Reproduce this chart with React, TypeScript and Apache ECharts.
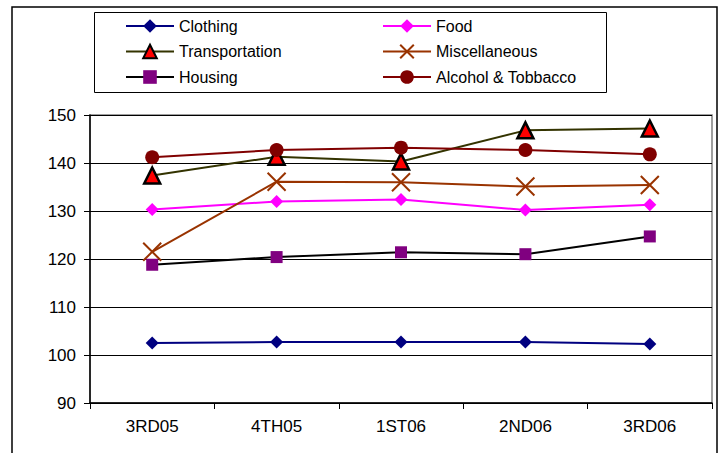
import React, { useEffect, useRef } from "react";
import * as echarts from "echarts";

const categories = ["3RD05", "4TH05", "1ST06", "2ND06", "3RD06"];
const yTicks = [90, 100, 110, 120, 130, 140, 150];

const clothing = [102.5, 102.7, 102.7, 102.7, 102.3];
const food = [130.3, 132.0, 132.4, 130.2, 131.3];
const transportation = [137.4, 141.3, 140.3, 146.8, 147.2];
const miscellaneous = [121.5, 136.1, 136.0, 135.1, 135.4];
const housing = [118.8, 120.4, 121.4, 121.0, 124.7];
const alcohol = [141.2, 142.7, 143.2, 142.7, 141.8];

const FONT = "Liberation Sans, Arial, sans-serif";

export default function App() {
  const ref = useRef<HTMLDivElement>(null);
  useEffect(() => {
    if (!ref.current) return;
    const chart = echarts.init(ref.current, undefined, { renderer: "svg" });
    const lw = 2;
    const legendBase = {
      orient: "vertical",
      top: 18,
      padding: 0,
      itemWidth: 48,
      itemHeight: 17,
      itemGap: 9.5,
      textStyle: { fontSize: 16, color: "#000", fontFamily: FONT },
    };
    chart.setOption({
      animation: false,
      backgroundColor: "#ffffff",
      textStyle: { fontFamily: FONT },
      graphic: [
        {
          type: "rect",
          shape: { x: 12, y: 7, width: 705, height: 470 },
          style: { fill: "none", stroke: "#000", lineWidth: 1.5 },
          silent: true,
          z: -10,
        },
        {
          type: "rect",
          shape: { x: 94.5, y: 12.5, width: 512, height: 80 },
          style: { fill: "none", stroke: "#000", lineWidth: 1 },
          silent: true,
        },
      ],
      legend: [
        { ...legendBase, left: 125, data: ["Clothing", "Transportation", "Housing"] },
        { ...legendBase, left: 382, data: ["Food", "Miscellaneous", "Alcohol & Tobbacco"] },
      ],
      grid: {
        left: 90,
        right: 8,
        top: 115,
        bottom: 50,
        show: true,
        borderColor: "#808080",
        borderWidth: 1.5,
      },
      xAxis: {
        type: "category",
        data: categories,
        boundaryGap: true,
        axisLine: { lineStyle: { color: "#000", width: 1.5 } },
        axisTick: { show: true, length: 6, lineStyle: { color: "#000" } },
        axisLabel: { color: "#000", fontSize: 17, margin: 15, fontFamily: FONT },
      },
      yAxis: {
        type: "value",
        min: yTicks[0],
        max: yTicks[yTicks.length - 1],
        interval: 10,
        axisLine: { show: true, lineStyle: { color: "#000", width: 1.5 } },
        axisTick: { show: true, length: 6, lineStyle: { color: "#000" } },
        axisLabel: { color: "#000", fontSize: 17, margin: 14, fontFamily: FONT },
        splitLine: { lineStyle: { color: "#000", width: 1 } },
      },
      series: [
        {
          name: "Clothing",
          type: "line",
          data: clothing,
          symbol: "diamond",
          symbolSize: 13,
          lineStyle: { color: "#000080", width: lw },
          itemStyle: { color: "#000080" },
        },
        {
          name: "Food",
          type: "line",
          data: food,
          symbol: "diamond",
          symbolSize: 13,
          lineStyle: { color: "#FF00FF", width: lw },
          itemStyle: { color: "#FF00FF" },
        },
        {
          name: "Transportation",
          type: "line",
          data: transportation,
          symbol: "triangle",
          symbolSize: 16,
          lineStyle: { color: "#333300", width: lw },
          itemStyle: { color: "#FF0000", borderColor: "#000", borderWidth: 2.5 },
        },
        {
          name: "Miscellaneous",
          type: "line",
          data: miscellaneous,
          symbol: "path://M0,0L10,10M10,0L0,10",
          symbolSize: 18,
          symbolKeepAspect: true,
          lineStyle: { color: "#993300", width: lw },
          itemStyle: { color: "#993300", borderColor: "#993300", borderWidth: 2 },
        },
        {
          name: "Housing",
          type: "line",
          data: housing,
          symbol: "rect",
          symbolSize: 12,
          lineStyle: { color: "#000000", width: lw },
          itemStyle: { color: "#800080" },
        },
        {
          name: "Alcohol & Tobbacco",
          type: "line",
          data: alcohol,
          symbol: "circle",
          symbolSize: 14,
          lineStyle: { color: "#800000", width: lw },
          itemStyle: { color: "#800000" },
        },
      ],
    });
    return () => chart.dispose();
  }, []);
  return <div ref={ref} style={{ width: 720, height: 453, position: "absolute", left: 0, top: 0 }} />;
}
